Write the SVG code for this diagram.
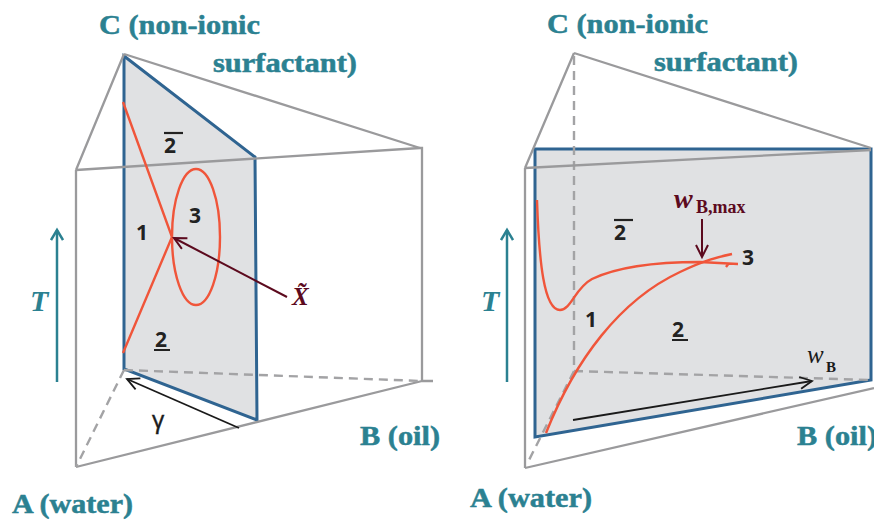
<svg xmlns="http://www.w3.org/2000/svg" width="874" height="521" viewBox="0 0 874 521">
<defs>
<style>
.edge{stroke:#9a9a9c;stroke-width:2.3;fill:none}
.dash{stroke:#a3a3a5;stroke-width:2.4;fill:none;stroke-dasharray:9 6}
.plane{fill:#e0e1e3;stroke:#2f6491;stroke-width:3;stroke-linejoin:miter}
.red{stroke:#f0553a;stroke-width:2.4;fill:none}
.lbl{font-family:"Liberation Serif",serif;font-weight:bold;fill:#2b8191;stroke:#2b8191;stroke-width:0.5;font-size:28px}
.num{font-family:"Open Sans","DejaVu Sans",sans-serif;font-weight:bold;fill:#222;font-size:21px}
.tarrow{stroke:#2b8191;stroke-width:2.5;fill:none}
.blk{stroke:#1a1a1a;stroke-width:1.8;fill:none}
.mar{stroke:#5c0a1e;stroke-width:2;fill:none}
.tl{font-family:"Liberation Serif",serif;font-style:italic;font-weight:bold;font-size:30px;fill:#2b8191}
</style>
<marker id="mT" markerWidth="14" markerHeight="14" refX="11" refY="7" orient="auto" markerUnits="userSpaceOnUse"><path d="M1,1 L11,7 L1,13" fill="none" stroke="#2b8191" stroke-width="2.5"/></marker>
<marker id="mK" markerWidth="16" markerHeight="14" refX="13" refY="7" orient="auto" markerUnits="userSpaceOnUse"><path d="M1,1 L13,7 L1,13" fill="none" stroke="#1a1a1a" stroke-width="1.8"/></marker>
<marker id="mM" markerWidth="16" markerHeight="14" refX="13" refY="7" orient="auto" markerUnits="userSpaceOnUse"><path d="M1,1 L13,7 L1,13" fill="none" stroke="#5c0a1e" stroke-width="2"/></marker>
</defs>
<rect width="874" height="521" fill="#ffffff"/>

<g id="left-prism">
<polygon class="plane" points="124,56 255,157 257,420 124,369"/>
<path class="edge" d="M124,54 L76,170 M124,54 L420,148 M76,170 L76,467 M420,148 L422,148 L422,381 L433,381 M76,467 L422,381"/>
<path class="dash" d="M124,370 L422,381 M124,370 L76,467"/>
<path class="edge" d="M76,170 L420,148"/>
<path class="red" d="M123,102 L172,237 L123,353"/>
<ellipse class="red" cx="196" cy="237" rx="24" ry="68"/>
<text class="num" x="164" y="153">2</text>
<line x1="164" y1="133" x2="183" y2="133" stroke="#222" stroke-width="2.2"/>
<text class="num" x="136" y="240">1</text>
<text class="num" x="189" y="223">3</text>
<text class="num" x="155" y="347">2</text>
<line x1="154" y1="350" x2="170" y2="350" stroke="#222" stroke-width="2"/>
<line class="mar" x1="287" y1="297" x2="174" y2="238" marker-end="url(#mM)"/>
<text x="292" y="305" font-family="Liberation Serif,serif" font-style="italic" font-weight="bold" font-size="25" fill="#5c0a1e">X̃</text>
<line class="blk" x1="239" y1="428" x2="127" y2="379" marker-end="url(#mK)"/>
<text x="152" y="428" font-family="Open Sans,DejaVu Sans,sans-serif" font-size="24" fill="#1a1a1a" stroke="#1a1a1a" stroke-width="0.5">γ</text>
<line class="tarrow" x1="57" y1="382" x2="57" y2="230" marker-end="url(#mT)"/>
<text class="tl" x="30" y="311">T</text>
</g>

<g id="right-prism">
<polygon class="plane" points="535,149 871,149 871,380 535,437"/>
<path class="edge" d="M574,53 L525,168 M574,53 L871,148 M525,168 L525,468 M525,468 L874,388"/>
<path class="dash" d="M574,56 L574,371 M574,371 L871,380 M574,371 L527,464"/>
<path class="edge" d="M525,168 L871,150"/>
<path class="red" d="M537,200 C539,262 544,310 560,310 C571,310 575,288 592,279 C615,268 650,262 700,262 L738,264 M726,267 L729,263"/>
<path class="red" d="M546,433 C575,360 620,300 680,272 C705,260 718,257 732,254"/>
<text class="num" x="614" y="240">2</text>
<line x1="614" y1="220" x2="633" y2="220" stroke="#222" stroke-width="2.2"/>
<text class="num" x="585" y="327">1</text>
<text class="num" x="742" y="265">3</text>
<text class="num" x="672" y="337">2</text>
<line x1="672" y1="340" x2="688" y2="340" stroke="#222" stroke-width="2"/>
<text x="674" y="208" font-family="Liberation Serif,serif" font-style="italic" font-weight="bold" font-size="28" fill="#5c0a1e">w</text>
<text x="696" y="213" font-family="Liberation Serif,serif" font-weight="bold" font-size="18" fill="#5c0a1e">B,max</text>
<line class="mar" x1="702" y1="219" x2="702" y2="257" marker-end="url(#mM)"/>
<line class="blk" x1="573" y1="420" x2="812" y2="381" marker-end="url(#mK)"/>
<text x="807" y="363" font-family="Liberation Serif,serif" font-style="italic" font-size="25" fill="#1a1a1a">w</text>
<text x="826" y="372" font-family="Liberation Serif,serif" font-weight="bold" font-size="15" fill="#1a1a1a">B</text>
<line class="tarrow" x1="507" y1="382" x2="507" y2="230" marker-end="url(#mT)"/>
<text class="tl" x="481" y="311">T</text>
</g>

<g id="labels">
<text class="lbl" x="99" y="34" textLength="161" lengthAdjust="spacingAndGlyphs">C (non-ionic</text>
<text class="lbl" x="213" y="72" textLength="144" lengthAdjust="spacingAndGlyphs">surfactant)</text>
<text class="lbl" x="12" y="513" textLength="121" lengthAdjust="spacingAndGlyphs">A (water)</text>
<text class="lbl" x="360" y="445" textLength="80" lengthAdjust="spacingAndGlyphs">B (oil)</text>
<text class="lbl" x="547" y="33" textLength="161" lengthAdjust="spacingAndGlyphs">C (non-ionic</text>
<text class="lbl" x="654" y="71" textLength="144" lengthAdjust="spacingAndGlyphs">surfactant)</text>
<text class="lbl" x="470" y="507" textLength="122" lengthAdjust="spacingAndGlyphs">A (water)</text>
<text class="lbl" x="797" y="445" textLength="80" lengthAdjust="spacingAndGlyphs">B (oil)</text>
</g>
</svg>
